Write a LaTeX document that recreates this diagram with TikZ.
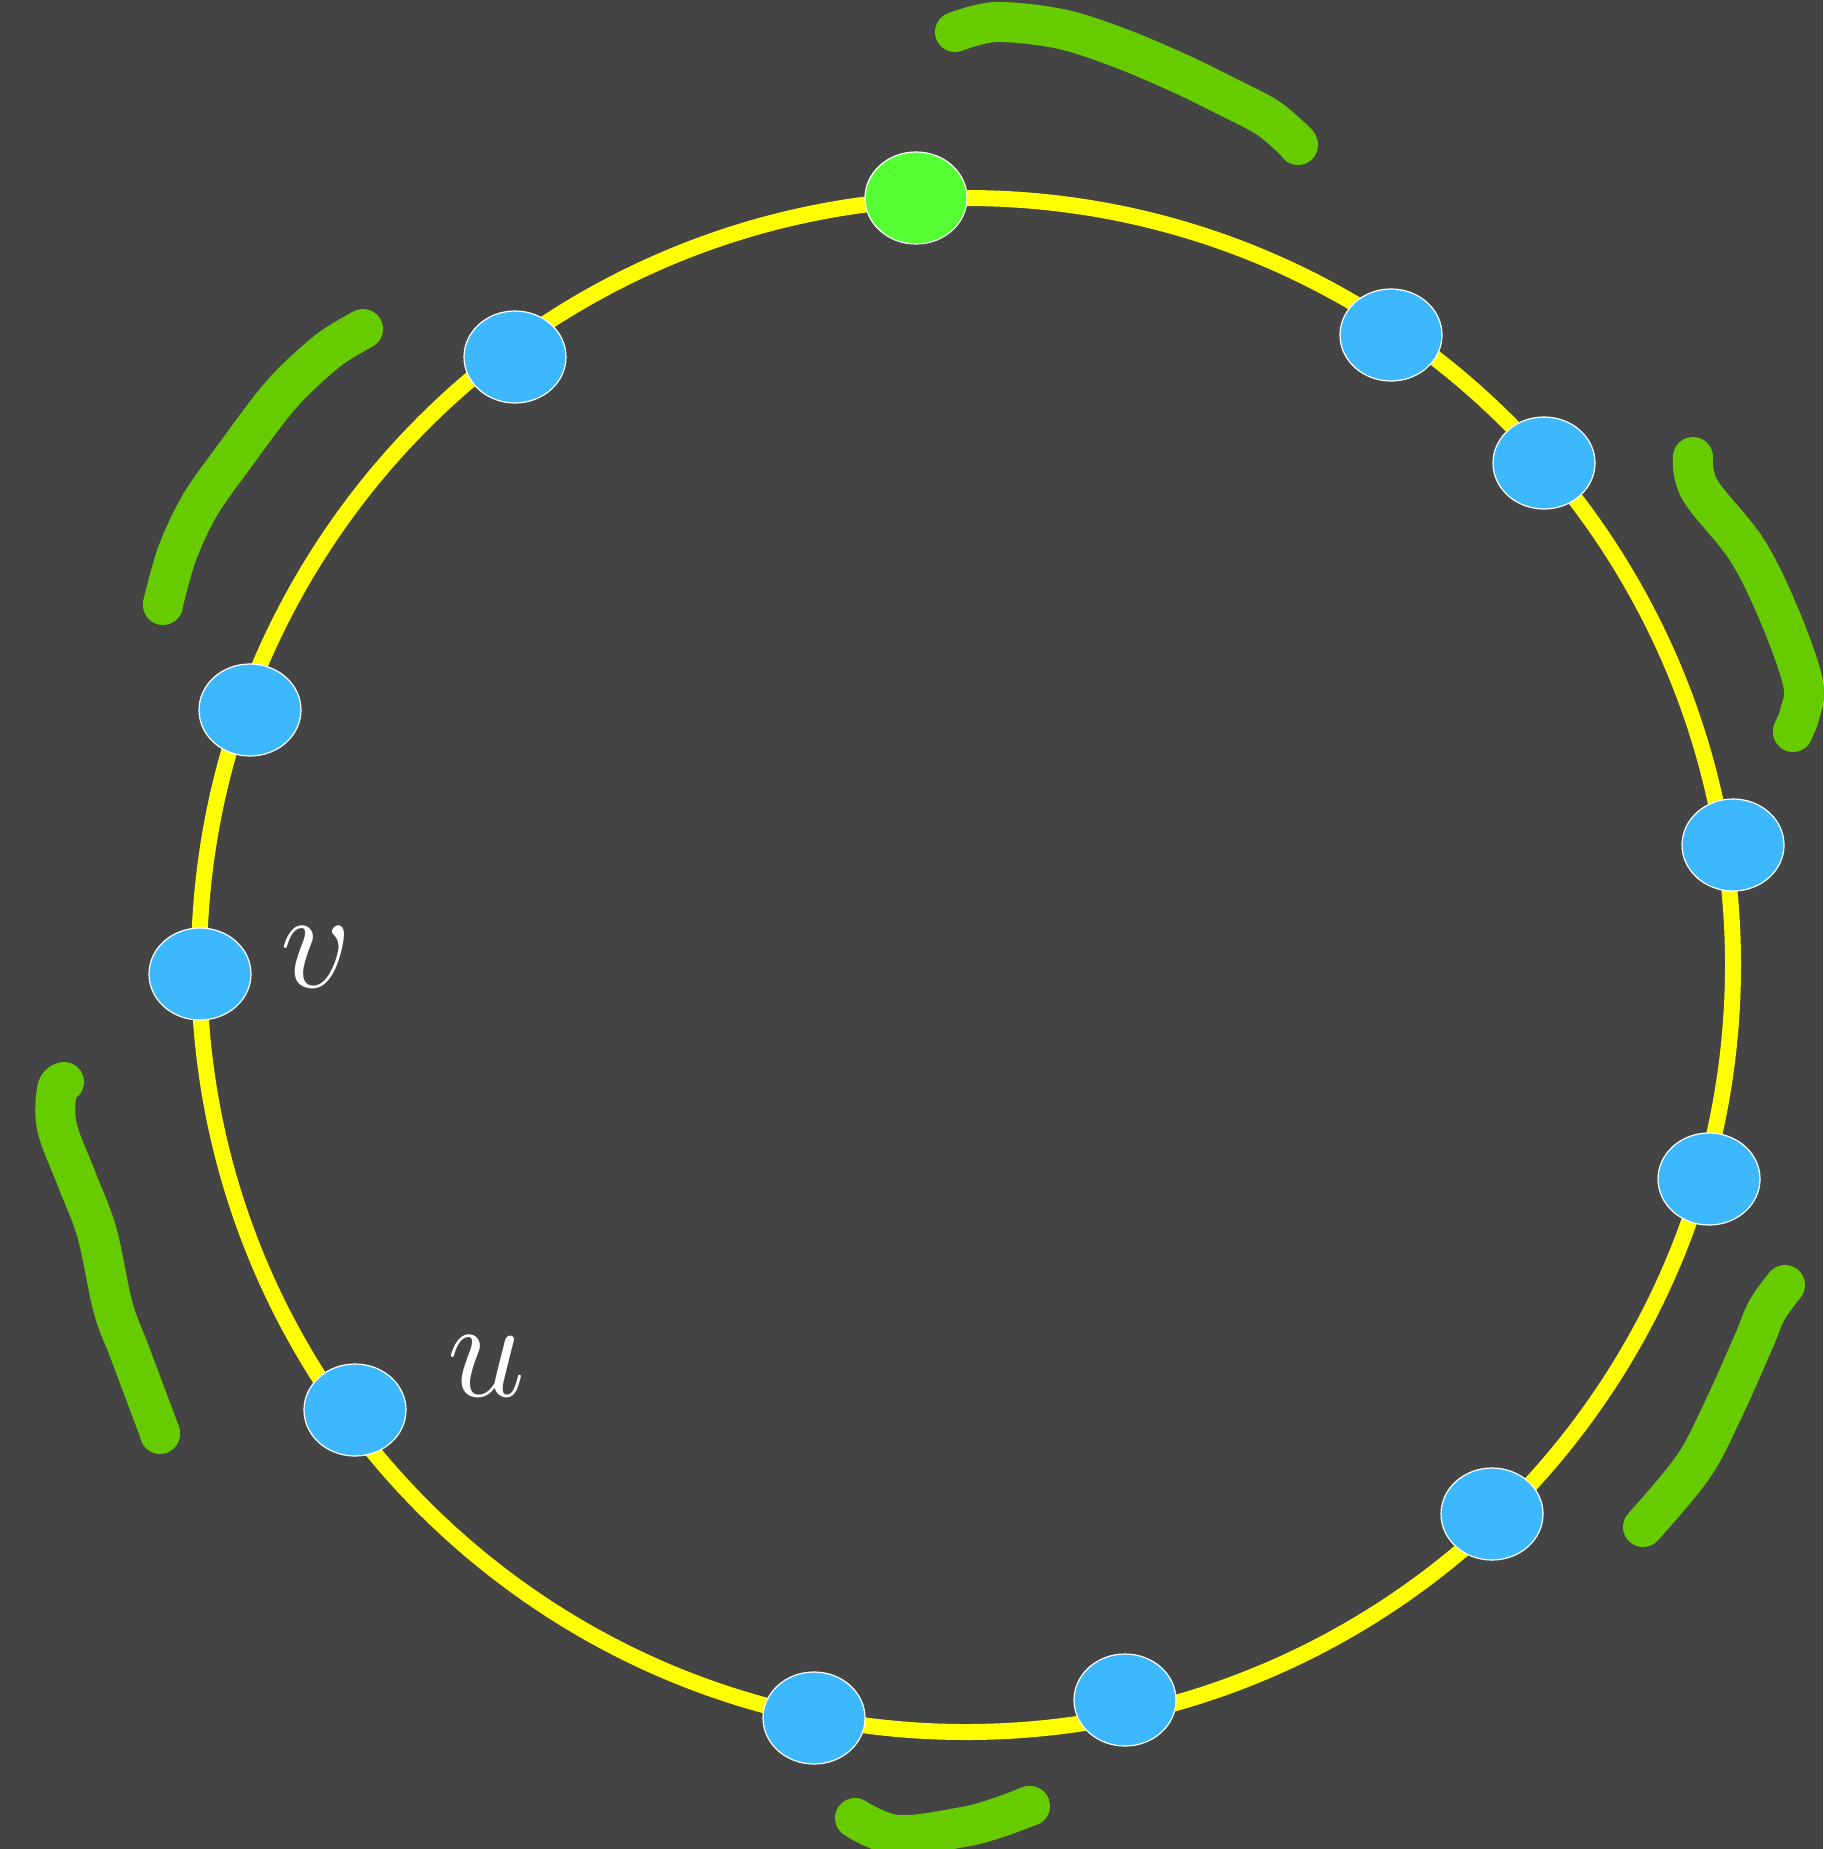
\documentclass[tikz,border=0pt]{standalone}
\usepackage{fix-cm}
\usetikzlibrary{shapes.geometric}
\definecolor{bgcol}{HTML}{444444}
\definecolor{nodeblue}{HTML}{3DB8FC}
\definecolor{nodegreen}{HTML}{55FF33}
\definecolor{strokegreen}{HTML}{66CC00}
\definecolor{ringyellow}{HTML}{FFFF00}
\tikzset{
  vert/.style={ellipse, minimum width=102pt, minimum height=92pt, inner sep=0pt,
    draw=white, line width=1.2pt, fill=nodeblue},
  rootvert/.style={vert, fill=nodegreen},
  ring/.style={draw=ringyellow, line width=16pt},
  greenbrush/.style={draw=strokegreen, line width=40pt, line cap=round, line join=round},
  blob/.style={fill=strokegreen},
  lbl/.style={text=white, inner sep=0pt, font=\fontsize{140}{140}\selectfont}
}
\begin{document}
\begin{tikzpicture}[x=1pt,y=-1pt]
\fill[bgcol] (0,0) rectangle (1823,1849);
\useasboundingbox (0,0) rectangle (1823,1849);
\draw[ring] (966,965) circle[radius=767pt];
% brush strokes
\draw[greenbrush] plot[smooth, tension=0.55] coordinates {(955,32) (996,22) (1061,29) (1120,48) (1179,73) (1226,96) (1268,118) (1297,143)};
\fill[blob] (1298,145) circle[radius=20pt];
\draw[greenbrush] plot[smooth, tension=0.55] coordinates {(363,329) (330,349) (295,380) (271,407) (236,454) (200,505) (177,554) (163,604)};
\fill[blob] (163,605) circle[radius=20pt];
\draw[greenbrush] plot[smooth, tension=0.6] coordinates {(64,1082) (57,1090) (57,1127) (77,1180) (97,1233) (113,1307) (130,1353) (160,1433)};
\fill[blob] (160,1434) circle[radius=20pt];
\draw[greenbrush] plot[smooth, tension=0.6] coordinates {(1693,457) (1700,490) (1747,550) (1780,617) (1803,683) (1800,713) (1793,731)};
\fill[blob] (1793,732) circle[radius=20pt];
\draw[greenbrush] plot[smooth, tension=0.6] coordinates {(1785,1285) (1767,1310) (1753,1343) (1723,1410) (1693,1467) (1643,1527)};
\draw[greenbrush] plot[smooth, tension=0.6] coordinates {(855,1818) (897,1835) (963,1827) (1000,1817) (1029,1806)};
\fill[blob] (1030,1806) circle[radius=20pt];
% vertices
\node[rootvert] (r) at (916,198) {};
\node[vert] (a) at (515,357) {};
\node[vert] (b) at (1391,335) {};
\node[vert] (c) at (1544,463) {};
\node[vert] (d) at (250,710) {};
\node[vert] (e) at (1733,845) {};
\node[vert] (v) at (200,974) {};
\node[vert] (f) at (1709,1179) {};
\node[vert] (u) at (355,1410) {};
\node[vert] (g) at (1492,1514) {};
\node[vert] (h) at (1125,1700) {};
\node[vert] (i) at (814,1718) {};
% labels
\node[lbl] (vl) at (316,957) {$v$};
\node[lbl] (ul) at (487,1366) {$u$};
\end{tikzpicture}
\end{document}
